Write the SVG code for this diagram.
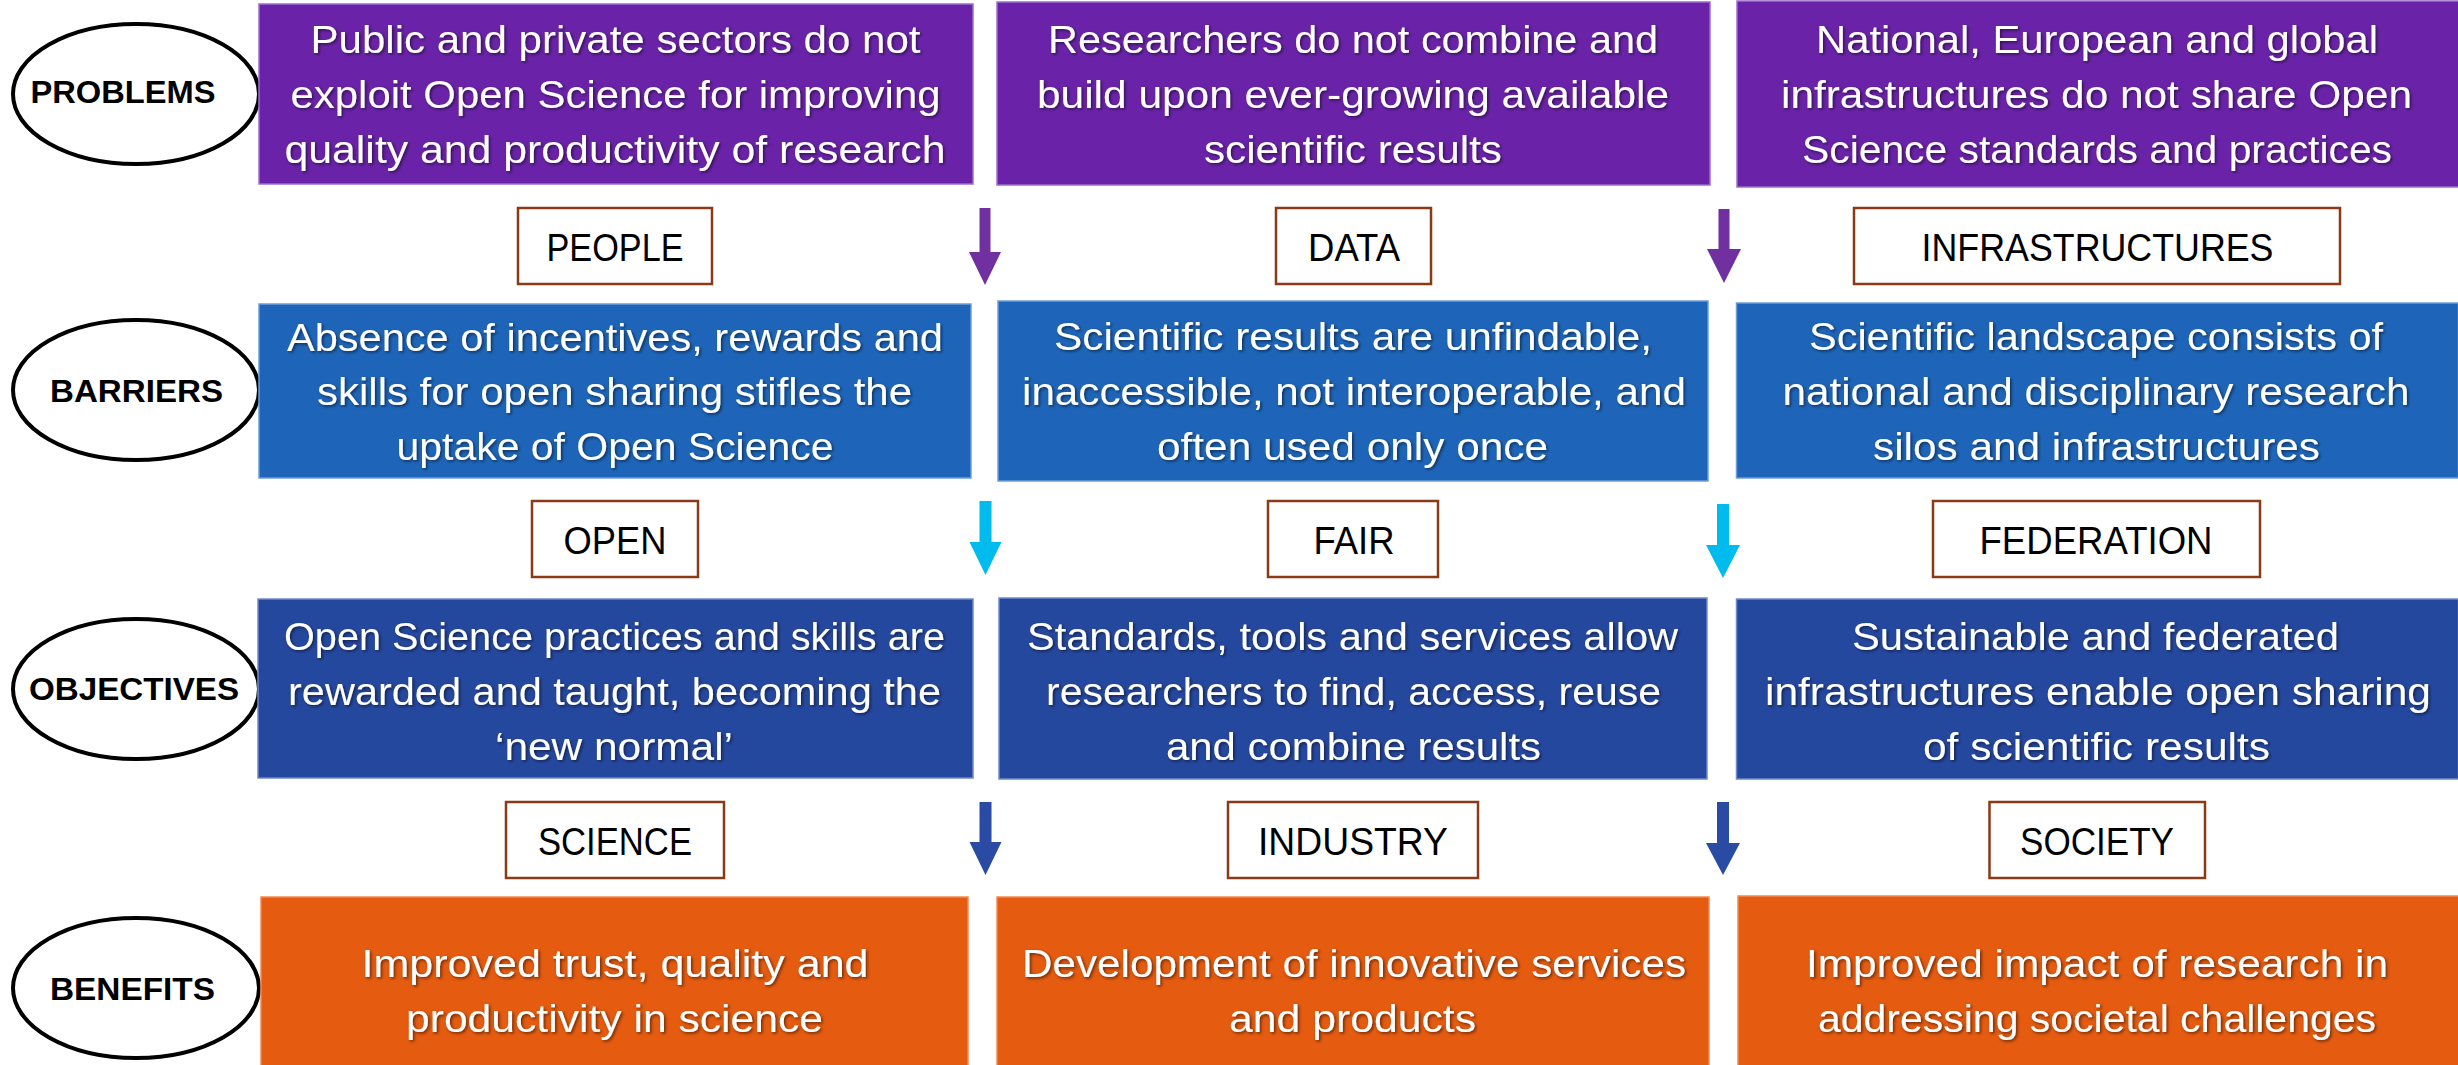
<svg xmlns="http://www.w3.org/2000/svg" width="2458" height="1065" viewBox="0 0 2458 1065">
<style>
.bt{font-family:"Liberation Sans",Arial,sans-serif;font-size:38px;fill:#fff;text-anchor:middle;filter:url(#sh)}
.lb{font-family:"Liberation Sans",Arial,sans-serif;font-size:39px;fill:#000;text-anchor:middle}
.el{font-family:"Liberation Sans",Arial,sans-serif;font-size:32px;font-weight:bold;fill:#000;text-anchor:middle}
.lbox{fill:#fff;stroke:#8B3A17;stroke-width:2.5}
.ell{fill:#fff;stroke:#000;stroke-width:4}
.pr{fill:#6A23A8;stroke:#9A70CC;stroke-width:1.5}
.ba{fill:#1E65B9;stroke:#6E9CD8;stroke-width:1.5}
.ob{fill:#25489F;stroke:#7089C8;stroke-width:1.5}
.be{fill:#E55B10;stroke:#F08A55;stroke-width:1.5}
</style>
<defs>
<filter id="sh" x="-5%" y="-30%" width="110%" height="160%">
<feDropShadow dx="1.5" dy="1.5" stdDeviation="1.5" flood-color="#000" flood-opacity="0.55"/>
</filter>
</defs>
<rect width="2458" height="1065" fill="#fff"/>

<g id="ell-problems"><ellipse class="ell" cx="136" cy="94" rx="123" ry="70"/><text class="el" x="123" y="103" textLength="185" lengthAdjust="spacingAndGlyphs">PROBLEMS</text></g>
<g id="ell-barriers"><ellipse class="ell" cx="136" cy="390" rx="123" ry="70"/><text class="el" x="136.5" y="402" textLength="173" lengthAdjust="spacingAndGlyphs">BARRIERS</text></g>
<g id="ell-objectives"><ellipse class="ell" cx="136" cy="689" rx="123" ry="70"/><text class="el" x="134" y="700" textLength="210" lengthAdjust="spacingAndGlyphs">OBJECTIVES</text></g>
<g id="ell-benefits"><ellipse class="ell" cx="136" cy="988" rx="123" ry="70"/><text class="el" x="132.5" y="1000" textLength="165" lengthAdjust="spacingAndGlyphs">BENEFITS</text></g>

<g id="prob-1"><rect class="pr" x="259" y="4" width="714" height="180"/>
<text class="bt" x="615.5" y="53" textLength="610" lengthAdjust="spacingAndGlyphs">Public and private sectors do not</text>
<text class="bt" x="615.5" y="108" textLength="650" lengthAdjust="spacingAndGlyphs">exploit Open Science for improving</text>
<text class="bt" x="615" y="163" textLength="661" lengthAdjust="spacingAndGlyphs">quality and productivity of research</text></g>
<g id="prob-2"><rect class="pr" x="997" y="2" width="713" height="183"/>
<text class="bt" x="1353" y="53" textLength="610" lengthAdjust="spacingAndGlyphs">Researchers do not combine and</text>
<text class="bt" x="1353" y="108" textLength="632" lengthAdjust="spacingAndGlyphs">build upon ever-growing available</text>
<text class="bt" x="1353" y="163" textLength="298" lengthAdjust="spacingAndGlyphs">scientific results</text></g>
<g id="prob-3"><rect class="pr" x="1737" y="1" width="722" height="186"/>
<text class="bt" x="2097" y="53" textLength="562" lengthAdjust="spacingAndGlyphs">National, European and global</text>
<text class="bt" x="2096.5" y="108" textLength="631" lengthAdjust="spacingAndGlyphs">infrastructures do not share Open</text>
<text class="bt" x="2097" y="163" textLength="590" lengthAdjust="spacingAndGlyphs">Science standards and practices</text></g>

<g id="lab-people"><rect class="lbox" x="518" y="208" width="194" height="76"/><text class="lb" x="615" y="261" textLength="137" lengthAdjust="spacingAndGlyphs">PEOPLE</text></g>
<g id="lab-data"><rect class="lbox" x="1276" y="208" width="155" height="76"/><text class="lb" x="1354" y="261" textLength="92" lengthAdjust="spacingAndGlyphs">DATA</text></g>
<g id="lab-infra"><rect class="lbox" x="1854" y="208" width="486" height="76"/><text class="lb" x="2097.5" y="261" textLength="352" lengthAdjust="spacingAndGlyphs">INFRASTRUCTURES</text></g>

<g id="bar-1"><rect class="ba" x="259" y="304" width="712" height="174"/>
<text class="bt" x="615" y="351" textLength="656" lengthAdjust="spacingAndGlyphs">Absence of incentives, rewards and</text>
<text class="bt" x="614.5" y="405" textLength="595" lengthAdjust="spacingAndGlyphs">skills for open sharing stifles the</text>
<text class="bt" x="615" y="460" textLength="437" lengthAdjust="spacingAndGlyphs">uptake of Open Science</text></g>
<g id="bar-2"><rect class="ba" x="998" y="301" width="710" height="180"/>
<text class="bt" x="1353" y="350" textLength="598" lengthAdjust="spacingAndGlyphs">Scientific results are unfindable,</text>
<text class="bt" x="1354" y="405" textLength="664" lengthAdjust="spacingAndGlyphs">inaccessible, not interoperable, and</text>
<text class="bt" x="1352.5" y="460" textLength="391" lengthAdjust="spacingAndGlyphs">often used only once</text></g>
<g id="bar-3"><rect class="ba" x="1736.5" y="303" width="722" height="175"/>
<text class="bt" x="2096" y="350" textLength="574" lengthAdjust="spacingAndGlyphs">Scientific landscape consists of</text>
<text class="bt" x="2096" y="405" textLength="627" lengthAdjust="spacingAndGlyphs">national and disciplinary research</text>
<text class="bt" x="2096.5" y="460" textLength="447" lengthAdjust="spacingAndGlyphs">silos and infrastructures</text></g>

<g id="lab-open"><rect class="lbox" x="532" y="501" width="166" height="76"/><text class="lb" x="615" y="554" textLength="103" lengthAdjust="spacingAndGlyphs">OPEN</text></g>
<g id="lab-fair"><rect class="lbox" x="1268" y="501" width="170" height="76"/><text class="lb" x="1354" y="554" textLength="81" lengthAdjust="spacingAndGlyphs">FAIR</text></g>
<g id="lab-federation"><rect class="lbox" x="1933" y="501" width="327" height="76"/><text class="lb" x="2096" y="554" textLength="233" lengthAdjust="spacingAndGlyphs">FEDERATION</text></g>

<g id="obj-1"><rect class="ob" x="258" y="599" width="715" height="179"/>
<text class="bt" x="614.5" y="650" textLength="661" lengthAdjust="spacingAndGlyphs">Open Science practices and skills are</text>
<text class="bt" x="614.5" y="705" textLength="653" lengthAdjust="spacingAndGlyphs">rewarded and taught, becoming the</text>
<text class="bt" x="614" y="760" textLength="238" lengthAdjust="spacingAndGlyphs">‘new normal’</text></g>
<g id="obj-2"><rect class="ob" x="999" y="598" width="708" height="181"/>
<text class="bt" x="1352.5" y="650" textLength="651" lengthAdjust="spacingAndGlyphs">Standards, tools and services allow</text>
<text class="bt" x="1353.5" y="705" textLength="615" lengthAdjust="spacingAndGlyphs">researchers to find, access, reuse</text>
<text class="bt" x="1353.5" y="760" textLength="375" lengthAdjust="spacingAndGlyphs">and combine results</text></g>
<g id="obj-3"><rect class="ob" x="1736.5" y="599" width="722" height="180"/>
<text class="bt" x="2095.5" y="650" textLength="487" lengthAdjust="spacingAndGlyphs">Sustainable and federated</text>
<text class="bt" x="2098" y="705" textLength="666" lengthAdjust="spacingAndGlyphs">infrastructures enable open sharing</text>
<text class="bt" x="2096.5" y="760" textLength="347" lengthAdjust="spacingAndGlyphs">of scientific results</text></g>

<g id="lab-science"><rect class="lbox" x="506" y="802" width="218" height="76"/><text class="lb" x="615" y="855" textLength="154" lengthAdjust="spacingAndGlyphs">SCIENCE</text></g>
<g id="lab-industry"><rect class="lbox" x="1228" y="802" width="250" height="76"/><text class="lb" x="1353" y="855" textLength="190" lengthAdjust="spacingAndGlyphs">INDUSTRY</text></g>
<g id="lab-society"><rect class="lbox" x="1989.5" y="802" width="215.5" height="76"/><text class="lb" x="2097" y="855" textLength="154" lengthAdjust="spacingAndGlyphs">SOCIETY</text></g>

<g id="ben-1"><rect class="be" x="261" y="897" width="707" height="170"/>
<text class="bt" x="615" y="977" textLength="507" lengthAdjust="spacingAndGlyphs">Improved trust, quality and</text>
<text class="bt" x="614.5" y="1032" textLength="417" lengthAdjust="spacingAndGlyphs">productivity in science</text></g>
<g id="ben-2"><rect class="be" x="997" y="897" width="712" height="170"/>
<text class="bt" x="1354" y="977" textLength="664" lengthAdjust="spacingAndGlyphs">Development of innovative services</text>
<text class="bt" x="1352.5" y="1032" textLength="247" lengthAdjust="spacingAndGlyphs">and products</text></g>
<g id="ben-3"><rect class="be" x="1738" y="896" width="721" height="171"/>
<text class="bt" x="2097" y="977" textLength="582" lengthAdjust="spacingAndGlyphs">Improved impact of research in</text>
<text class="bt" x="2097" y="1032" textLength="558" lengthAdjust="spacingAndGlyphs">addressing societal challenges</text></g>

<g id="connectors">
<polygon fill="#7030A0" points="979.5,208 990.5,208 990.5,252 1001,252 985,285 969,252 979.5,252"/>
<polygon fill="#7030A0" points="1718.5,209 1729.5,209 1729.5,249 1741,249 1724,283 1707,249 1718.5,249"/>
<polygon fill="#00BCEE" points="979.5,501 991.5,501 991.5,542 1001.5,542 985.5,575 969.5,542 979.5,542"/>
<polygon fill="#00BCEE" points="1717,504 1729,504 1729,545 1740,545 1723,578 1706,545 1717,545"/>
<polygon fill="#2A4BA3" points="979.5,802 991.5,802 991.5,842 1001.5,842 985.5,875 969.5,842 979.5,842"/>
<polygon fill="#2A4BA3" points="1717,802 1729,802 1729,843 1740,843 1723,875 1706,843 1717,843"/>
</g>
</svg>
